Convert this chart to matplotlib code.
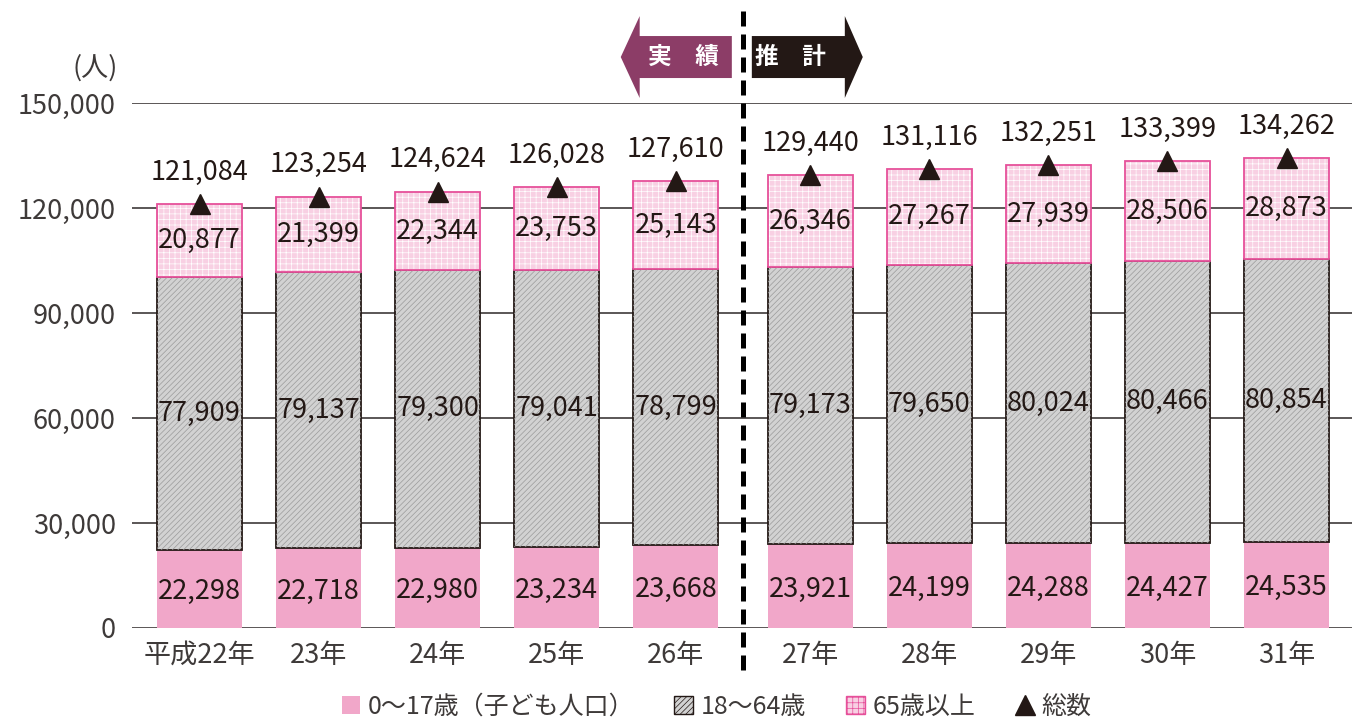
import matplotlib.pyplot as plt
from matplotlib.patches import Polygon, Patch
from matplotlib.lines import Line2D

plt.rcParams['font.family'] = ['Noto Sans CJK JP', 'DejaVu Sans']
plt.rcParams['hatch.linewidth'] = 0.5

# data
years = ['平成22年', '23年', '24年', '25年', '26年', '27年', '28年', '29年', '30年', '31年']
kids = [22298, 22718, 22980, 23234, 23668, 23921, 24199, 24288, 24427, 24535]
adults = [77909, 79137, 79300, 79041, 78799, 79173, 79650, 80024, 80466, 80854]
elderly = [20877, 21399, 22344, 23753, 25143, 26346, 27267, 27939, 28506, 28873]
totals = [121084, 123254, 124624, 126028, 127610, 129440, 131116, 132251, 133399, 134262]
n_actual = 5  # 実績 = first 5 years

# x positions, with a small gap at the actual/estimate split
gap = 0.13
xs = [i if i < n_actual else i + gap for i in range(len(years))]
split_x = (xs[n_actual - 1] + xs[n_actual]) / 2

txt_col = '#231815'
tick_col = '#3e3a39'
pink = '#f1a7c9'
gray_face = '#d2d2d2'
pink_face = '#f8d0e3'
pink_edge = '#e6509a'

fig = plt.figure(figsize=(13.52, 7.24), dpi=100)
ax = fig.add_axes([0.098, 0.1326, 0.902, 0.7251])

w = 0.71
bottom2 = [a + b for a, b in zip(kids, adults)]

ax.bar(xs, kids, width=w, color=pink, linewidth=0, zorder=2)
ax.bar(xs, adults, bottom=kids, width=w, color=gray_face, edgecolor='#231815', linewidth=1.3, zorder=2)
ax.bar(xs, adults, bottom=kids, width=w, color='none', edgecolor='#9a9a9a', hatch='//////', linewidth=0, zorder=2.1)
ax.bar(xs, elderly, bottom=bottom2, width=w, color=pink_face, edgecolor='none', linewidth=0, zorder=2)
ax.bar(xs, elderly, bottom=bottom2, width=w, color='none', edgecolor='white', hatch='+++', linewidth=0, zorder=2.1)
ax.bar(xs, elderly, bottom=bottom2, width=w, color='none', edgecolor=pink_edge, linewidth=1.3, zorder=2.2)

ax.plot(xs, totals, linestyle='none', marker='^', markersize=14, color=txt_col, zorder=4)

fs = 19.5
for x, k, a, e, t in zip(xs, kids, adults, elderly, totals):
    ax.text(x, k / 2 - 800, f'{k:,}', ha='center', va='center', fontsize=fs, color=txt_col, zorder=5)
    ax.text(x, k + a / 2, f'{a:,}', ha='center', va='center', fontsize=fs, color=txt_col, zorder=5)
    ax.text(x, k + a + e / 2, f'{e:,}', ha='center', va='center', fontsize=fs, color=txt_col, zorder=5)
    ax.annotate(f'{t:,}', (x, t), xytext=(0, 23), textcoords='offset points',
                ha='center', va='center', fontsize=fs, color=txt_col, zorder=5)

ax.set_ylim(0, 150000)
ax.set_xlim(-0.563, 9.68)
ax.set_yticks(range(0, 150001, 30000))
ax.set_yticklabels([f'{v:,}' for v in range(0, 150001, 30000)])
ax.set_xticks(xs)
ax.set_xticklabels(years)
ax.tick_params(axis='both', length=0, labelsize=fs, labelcolor=tick_col)
ax.tick_params(axis='y', pad=12)
ax.tick_params(axis='x', pad=10)
ax.grid(axis='y', color=tick_col, linewidth=1.2, zorder=1)
ax.set_axisbelow(True)
for s in ax.spines.values():
    s.set_visible(False)

ax.text(-0.031, 1.067, '(人)', transform=ax.transAxes, ha='center', va='center',
        fontsize=fs, color=tick_col)

# dashed divider
ax.plot([split_x, split_x], [-0.08, 1.177], transform=ax.get_xaxis_transform(), clip_on=False,
        color='black', linewidth=3.6, linestyle=(0, (3, 1.6)), zorder=6)

# 実績 / 推計 arrows
trans = ax.get_xaxis_transform()
yc, bh, hh = 1.0876, 0.04, 0.078
left = [(split_x - 1.027, yc), (split_x - 0.868, yc + hh), (split_x - 0.868, yc + bh),
        (split_x - 0.094, yc + bh), (split_x - 0.094, yc - bh), (split_x - 0.868, yc - bh),
        (split_x - 0.868, yc - hh)]
right = [(split_x + 1.006, yc), (split_x + 0.855, yc + hh), (split_x + 0.855, yc + bh),
         (split_x + 0.074, yc + bh), (split_x + 0.074, yc - bh), (split_x + 0.855, yc - bh),
         (split_x + 0.855, yc - hh)]
ax.add_patch(Polygon(left, closed=True, transform=trans, clip_on=False, facecolor='#8c3d67', edgecolor='none'))
ax.add_patch(Polygon(right, closed=True, transform=trans, clip_on=False, facecolor='#231815', edgecolor='none'))
ax.text(split_x - 0.5, yc, '実\u3000績', transform=trans, ha='center', va='center',
        fontsize=17, color='white', fontweight='bold')
ax.text(split_x + 0.4, yc, '推\u3000計', transform=trans, ha='center', va='center',
        fontsize=17, color='white', fontweight='bold')

# legend
handles = [
    Patch(facecolor=pink, edgecolor='none'),
    Patch(facecolor=gray_face, edgecolor='#231815', hatch='//////', linewidth=1),
    Patch(facecolor=pink_face, edgecolor=pink_edge, hatch='+++', linewidth=1),
    Line2D([], [], linestyle='none', marker='^', markersize=14, color=txt_col),
]
labels = ['0〜17歳（子ども人口）', '18〜64歳', '65歳以上', '総数']
fig.legend(handles, labels, loc='lower center', bbox_to_anchor=(0.53, -0.022), ncol=4,
           frameon=False, fontsize=18, handlelength=0.75, handleheight=0.75,
           handletextpad=0.3, columnspacing=1.6, labelcolor=tick_col, borderpad=0.3)

fig.savefig('out.png', dpi=100)
